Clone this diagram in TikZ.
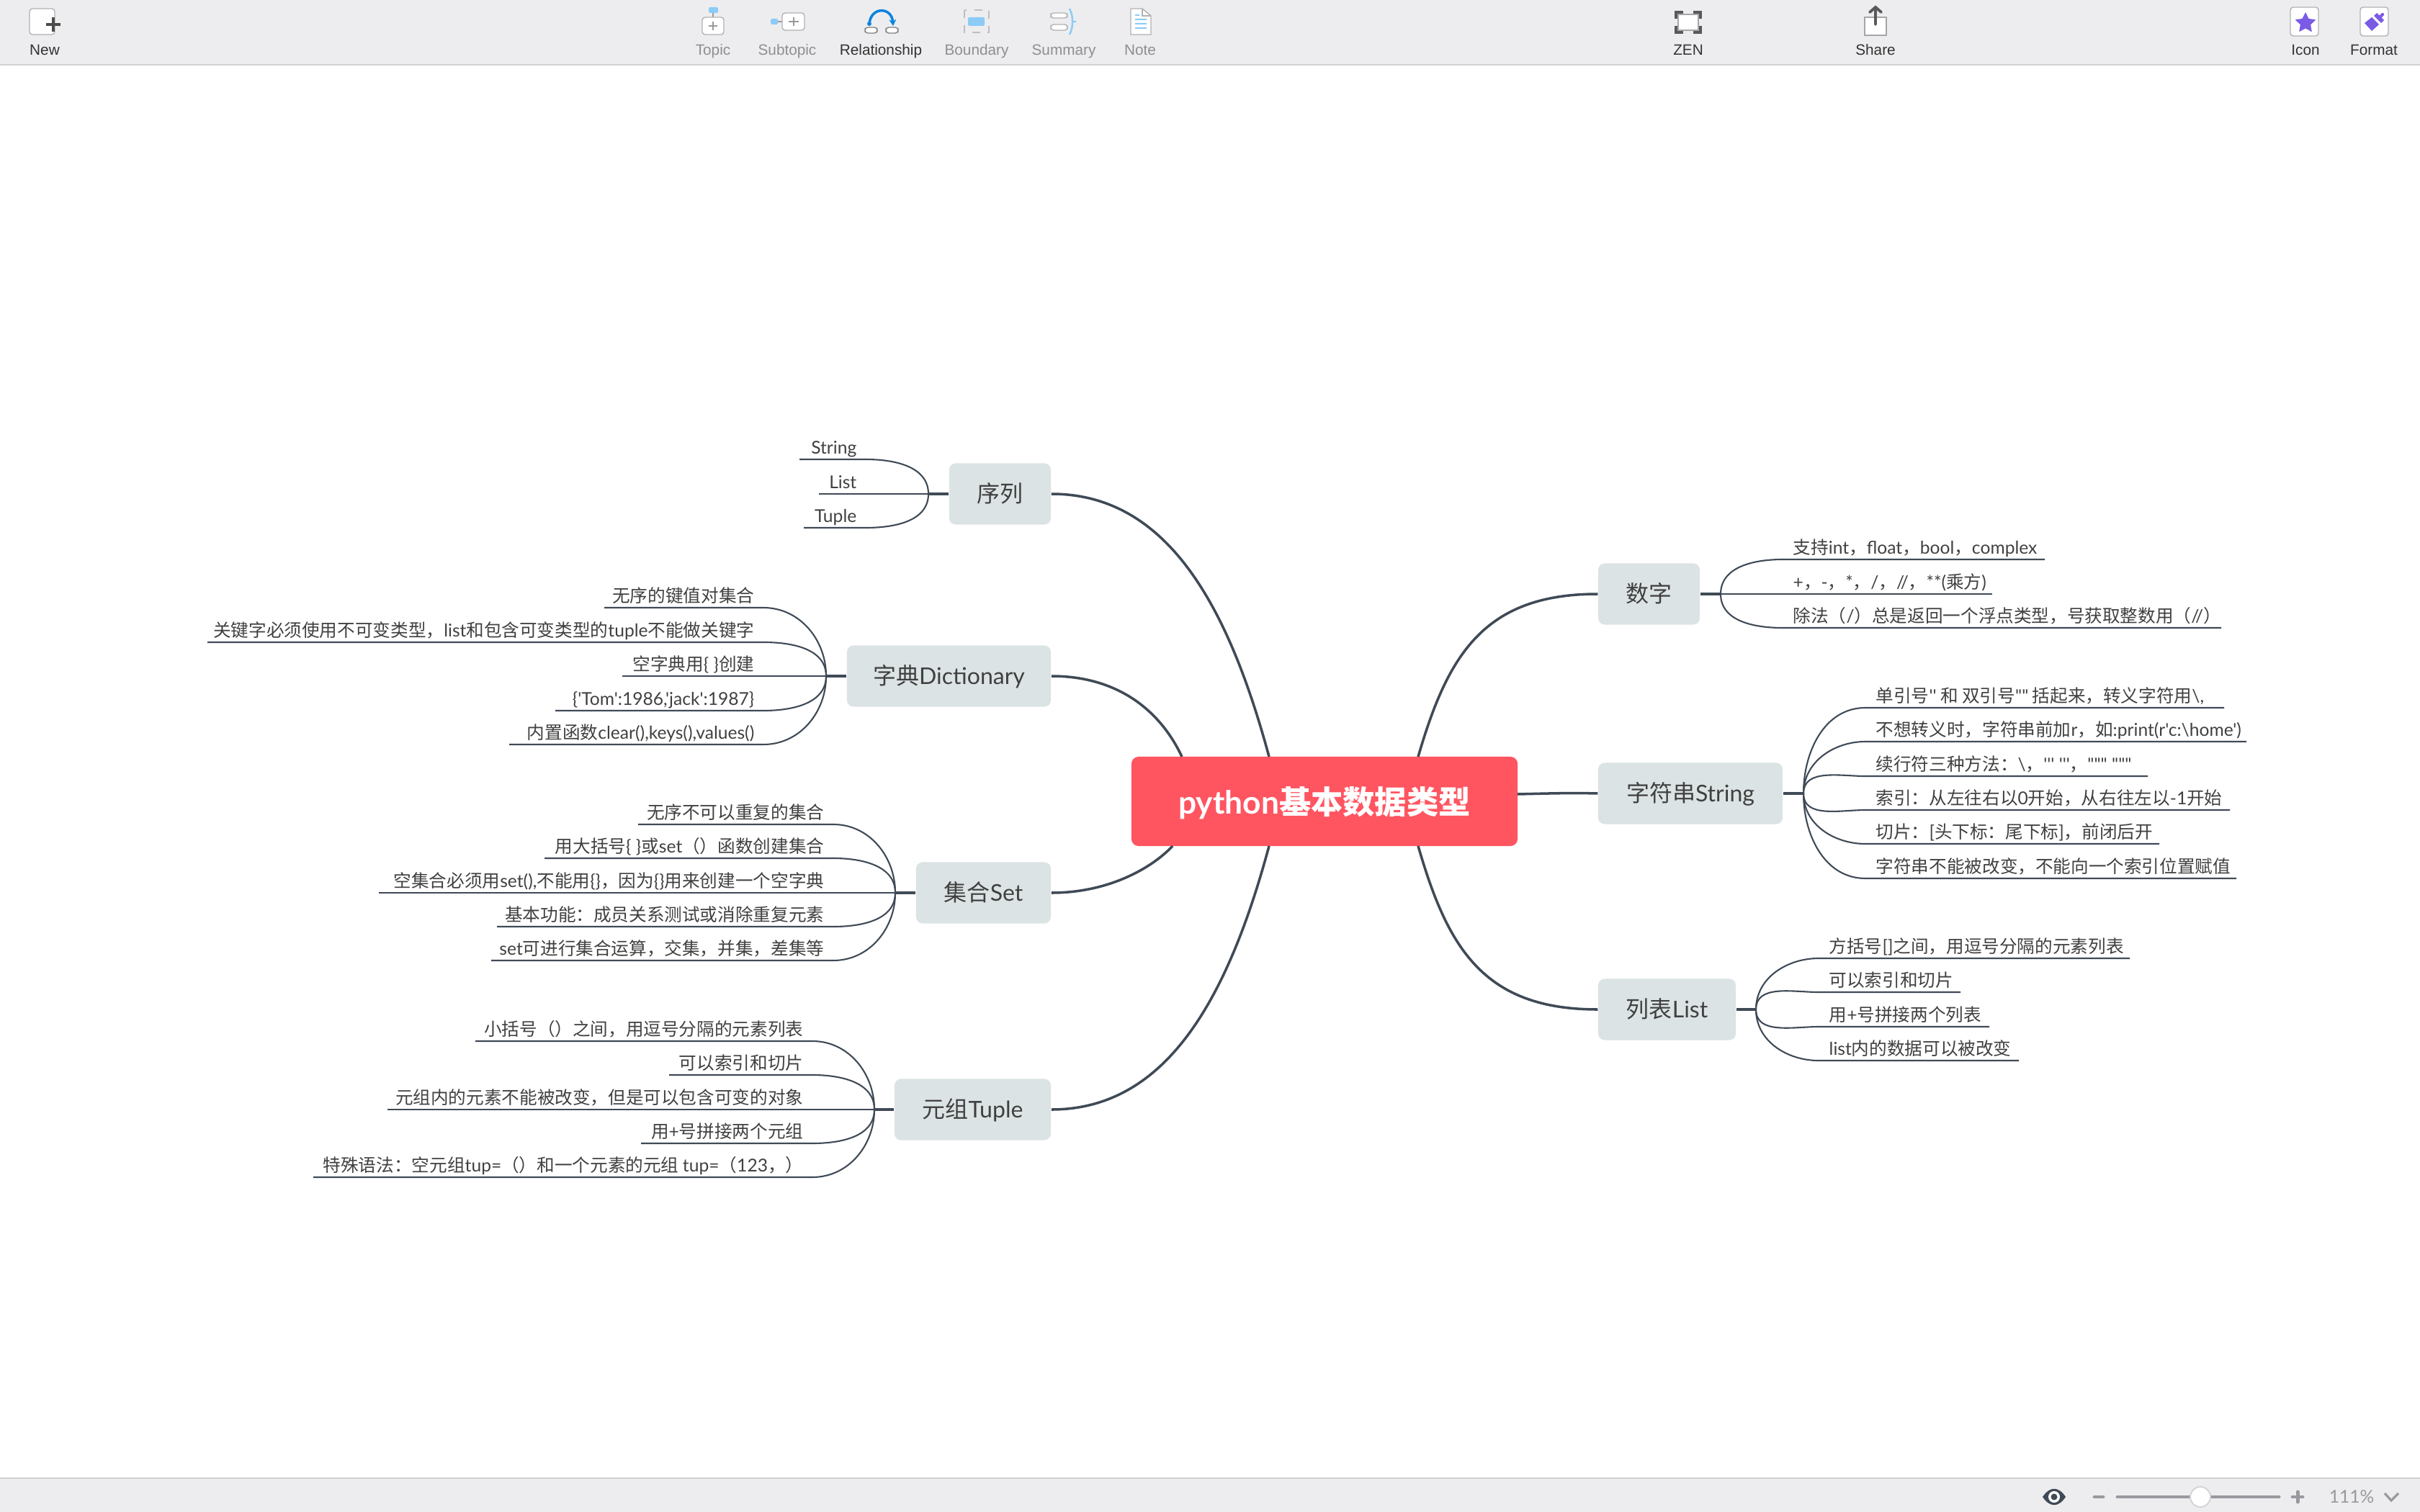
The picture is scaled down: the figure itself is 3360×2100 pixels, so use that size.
\documentclass[tikz,border=0pt]{standalone}
\usepackage{fontspec}
\usetikzlibrary{shapes.geometric,arrows.meta}
\newfontfamily\cjk{Noto Sans CJK SC}
\newfontfamily\latfont{Lato}
\newfontfamily\barfont{Liberation Sans}
\newcommand{\lat}[1]{{\latfont #1}}
\definecolor{linegray}{HTML}{3F4A56}
\definecolor{textgray}{HTML}{404040}
\definecolor{topicfill}{HTML}{DCE3E4}
\definecolor{rootred}{HTML}{FF5561}
\definecolor{barbg}{HTML}{EDEDEF}
\definecolor{barline}{HTML}{D2D2D2}
\definecolor{iconblue}{HTML}{8CCBF7}
\definecolor{arcblue}{HTML}{0A84E0}
\definecolor{iconpurple}{HTML}{7B5BE6}
\definecolor{dimgray}{HTML}{8E8E93}
\definecolor{trackgray}{HTML}{98999E}
\tikzset{
  leaf/.style={font=\cjk\fontsize{7}{8}\selectfont,text=textgray,inner ysep=0pt,inner xsep=.14cm,text height=6pt,text depth=2pt},
  leafl/.style={leaf,anchor=south east,inner xsep=.12cm},
  leafr/.style={leaf,anchor=south west},
  topic/.style={font=\cjk\fontsize{9.1}{10}\selectfont,text=textgray,fill=topicfill,rounded corners=.09cm,inner sep=0pt,minimum height=.85cm,text height=8.1pt,text depth=1.6pt},
  branch/.style={draw=linegray,line width=1pt},
  twig/.style={draw=linegray,line width=.6pt},
  upleft/.style={out=90,in=0},
  downleft/.style={out=-90,in=0},
  upright/.style={out=90,in=180},
  downright/.style={out=-90,in=180},
  barlabel/.style={font=\barfont\fontsize{5.9}{7}\selectfont,text=black!80,inner sep=0pt,anchor=base},
  barlabeldim/.style={barlabel,text=dimgray},
  iconbox/.style={draw=black!30,fill=white,line width=.4pt,rounded corners=.04cm}
}
\begin{document}
\begin{tikzpicture}[x=0.01cm,y=-0.01cm]
\useasboundingbox (0,0) rectangle (3360,2100);
% toolbar
\fill[barbg] (0,0) rectangle (3360,90);
\draw[barline,line width=.6pt] (0,90)--(3360,90);
\fill[barbg] (0,2053) rectangle (3360,2100);
\draw[barline,line width=.6pt] (0,2053)--(3360,2053);
\node[barlabel] (newlbl) at (62,77) {New};
\node[barlabeldim] (topiclbl) at (990,77) {Topic};
\node[barlabeldim] (subtopiclbl) at (1093,77) {Subtopic};
\node[barlabel] (rellbl) at (1223,77) {Relationship};
\node[barlabeldim] (boundlbl) at (1356,77) {Boundary};
\node[barlabeldim] (sumlbl) at (1477,77) {Summary};
\node[barlabeldim] (notelbl) at (1583,77) {Note};
\node[barlabel] (zenlbl) at (2344,77) {ZEN};
\node[barlabel] (sharelbl) at (2604,77) {Share};
\node[barlabel] (iconlbl) at (3201,77) {Icon};
\node[barlabel] (formatlbl) at (3296,77) {Format};
% new
\draw[iconbox] (41,12) rectangle (76,48);
\draw[black!70,line width=1pt] (74,24)--(74,44) (64,34)--(84,34);
% topic
\draw[black!40,line width=.6pt] (990,17)--(990,24);
\draw[iconbox] (975,24) rectangle (1005,48);
\draw[black!40,line width=.5pt] (990,30)--(990,42) (984,36)--(996,36);
\fill[iconblue,rounded corners=.02cm] (984,10) rectangle (997,18);
% subtopic
\draw[black!40,line width=.6pt] (1080,30)--(1086,30);
\draw[iconbox] (1086,18) rectangle (1117,42);
\draw[black!40,line width=.5pt] (1102,24)--(1102,36) (1095,30)--(1109,30);
\fill[iconblue,rounded corners=.02cm] (1070,26) rectangle (1080,34);
% relationship
\draw[iconbox,draw=black!50] (1201,38) rectangle (1218,46);
\draw[iconbox,draw=black!50] (1230,38) rectangle (1247,46);
\fill[arcblue] (1207,33) circle (3);
\draw[arcblue,line width=1pt,-{Stealth[length=.09cm,width=.1cm]}] (1207,33) .. controls (1209,9) and (1238,9) .. (1240,36);
% boundary
\draw[black!25,dashed,line width=.6pt] (1339,14) rectangle (1373,45);
\fill[iconblue,rounded corners=.02cm] (1344,24) rectangle (1367,36);
% summary
\draw[iconbox] (1459,18) rectangle (1482,25);
\draw[iconbox] (1459,34) rectangle (1482,42);
\draw[iconblue,line width=.7pt] (1485,12) .. controls (1489,20) and (1489,26) .. (1489,30) .. controls (1489,34) and (1489,40) .. (1485,48) (1489,30)--(1494,30);
% note
\draw[black!30,fill=white,line width=.4pt] (1570,12)--(1586,12)--(1598,22)--(1598,48)--(1570,48)--cycle;
\draw[black!30,line width=.3pt] (1586,12)--(1586,22)--(1598,22);
\fill[iconblue] (1576,20) rectangle (1582,22) (1576,26) rectangle (1592,28) (1576,32) rectangle (1592,34) (1576,38) rectangle (1592,40);
% zen
\draw[black!65,line width=1.1pt] (2327,26)--(2327,17)--(2337,17) (2351,17)--(2361,17)--(2361,26) (2361,36)--(2361,45)--(2351,45) (2337,45)--(2327,45)--(2327,36);
\draw[black!35,fill=white,line width=.4pt] (2330,20) rectangle (2358,42);
% share
\draw[black!35,fill=white,line width=.4pt] (2589,24) rectangle (2619,49);
\draw[black!65,line width=1.1pt,line cap=round] (2604,34)--(2604,10) (2596,17)--(2604,10)--(2612,17);
% icon, format
\draw[iconbox] (3180,10) rectangle (3219,50);
\node[star,star points=5,star point ratio=2,fill=iconpurple,inner sep=0pt,minimum size=.3cm] (staricon) at (3201,32) {};
\draw[iconbox] (3277,10) rectangle (3316,50);
\fill[iconpurple] (3283,32)--(3293,24)--(3303,34)--(3293,43)--cycle;
\fill[iconpurple] (3296,22)--(3306,32)--(3310,28)--(3300,18)--cycle;
\draw[iconpurple,line width=1.2pt,line cap=round] (3303,25)--(3308,20);
% status bar
\fill[linegray] (2836,2079) .. controls (2846,2064) and (2858,2064) .. (2868,2079) .. controls (2858,2094) and (2846,2094) .. cycle;
\fill[white] (2852,2079) circle (8);
\fill[linegray] (2852,2079) circle (4.5);
\draw[trackgray,line width=1.4pt,line cap=round] (2908,2079)--(2920,2079);
\draw[trackgray,line width=1.4pt,line cap=round] (2940,2079)--(3164,2079);
\draw[trackgray,line width=1.4pt,line cap=round] (3183,2079)--(3197,2079) (3190,2072)--(3190,2086);
\draw[barline,fill=white,line width=.5pt] (3055,2079) circle (14);
\node[barlabel,font=\latfont\fontsize{7}{8}\selectfont,text=trackgray,anchor=center] (zoomlbl) at (3265,2079) {111\%};
\draw[trackgray,line width=.9pt] (3311,2074)--(3320,2084)--(3330,2074);
% main topics
\node[fill=rootred,text=white,font=\cjk\bfseries\fontsize{12.6}{14}\selectfont,rounded corners=.1cm,inner sep=0pt,minimum width=5.36cm,minimum height=1.24cm,text height=12.3pt,text depth=2.5pt] (root) at (1839,1113) {\lat{python}基本数据类型};
\node[topic,minimum width=1.41cm] (seq) at (1388.5,686) {序列};
\node[topic,minimum width=2.83cm] (dict) at (1317.5,939) {字典\lat{Dictionary}};
\node[topic,minimum width=1.87cm] (set) at (1365.5,1240) {集合\lat{Set}};
\node[topic,minimum width=2.17cm] (tup) at (1350.5,1541) {元组\lat{Tuple}};
\node[topic,minimum width=1.41cm] (num) at (2289.5,825) {数字};
\node[topic,minimum width=2.56cm] (str) at (2347,1102) {字符串\lat{String}};
\node[topic,minimum width=1.91cm] (lst) at (2314.5,1402) {列表\lat{List}};
\coordinate (rootA) at (1762,1051);
\coordinate (rootB) at (1641,1051);
\coordinate (rootC) at (1628,1175);
\coordinate (rootD) at (1762,1175);
\coordinate (rootE) at (1969,1051);
\coordinate (rootF) at (2107,1103);
\coordinate (rootG) at (1969,1175);
\draw[branch] (seq.east) .. controls (1620,686) and (1705,840) .. (rootA);
\draw[branch] (dict.east) .. controls (1550,939) and (1610,985) .. (rootB);
\draw[branch] (set.east) .. controls (1540,1240) and (1600,1205) .. (rootC);
\draw[branch] (tup.east) .. controls (1620,1541) and (1705,1386) .. (rootD);
\draw[branch] (num.west) .. controls (2060,825) and (2010,910) .. (rootE);
\draw[branch] (str.west) .. controls (2180,1101) and (2150,1102) .. (rootF);
\draw[branch] (lst.west) .. controls (2060,1402) and (2010,1317) .. (rootG);
% forks
\coordinate (seqf) at (1289,686);
\coordinate (dictf) at (1147,939);
\coordinate (setf) at (1243,1240);
\coordinate (tupf) at (1214,1541);
\coordinate (numf) at (2389,825);
\coordinate (strf) at (2504,1102);
\coordinate (lstf) at (2438,1402);
\draw[branch] (seq.west)--(seqf);
\draw[branch] (dict.west)--(dictf);
\draw[branch] (set.west)--(setf);
\draw[branch] (tup.west)--(tupf);
\draw[branch] (num.east)--(numf);
\draw[branch] (str.east)--(strf);
\draw[branch] (lst.east)--(lstf);
% seq
\node[leafl] (seqa) at (1202,638) {\lat{String}};
\node[leafl] (seqb) at (1202,686) {\lat{List}};
\node[leafl] (seqc) at (1202,733) {\lat{Tuple}};
\coordinate (seqae) at (1110,638);
\coordinate (seqbe) at (1137,686);
\coordinate (seqce) at (1116,733);
\draw[twig] (seqf) to[upleft] (seqa.south east)--(seqae);
\draw[twig] (seqf)--(seqbe);
\draw[twig] (seqf) to[downleft] (seqc.south east)--(seqce);
% dict
\node[leafl] (dicta) at (1060,844) {无序的键值对集合};
\node[leafl] (dictb) at (1060,892) {关键字必须使用不可变类型，\lat{list}和包含可变类型的\lat{tuple}不能做关键字};
\node[leafl] (dictc) at (1060,939) {空字典用\lat{\{ \}}创建};
\node[leafl] (dictd) at (1060,987) {\lat{\{'Tom':1986,'jack':1987\}}};
\node[leafl] (dicte) at (1060,1034) {内置函数\lat{clear(),keys(),values()}};
\coordinate (dictae) at (839,844);
\coordinate (dictbe) at (288,892);
\coordinate (dictce) at (864,939);
\coordinate (dictde) at (771,987);
\coordinate (dictee) at (707,1034);
\draw[twig] (dictf) to[upleft] (dicta.south east)--(dictae);
\draw[twig] (dictf) to[upleft] (dictb.south east)--(dictbe);
\draw[twig] (dictf)--(dictce);
\draw[twig] (dictf) to[downleft] (dictd.south east)--(dictde);
\draw[twig] (dictf) to[downleft] (dicte.south east)--(dictee);
% set
\node[leafl] (seta) at (1157,1145) {无序不可以重复的集合};
\node[leafl] (setb) at (1157,1192) {用大括号\lat{\{ \}}或\lat{set}（）函数创建集合};
\node[leafl] (setc) at (1157,1240) {空集合必须用\lat{set(),}不能用\lat{\{\}}，因为\lat{\{\}}用来创建一个空字典};
\node[leafl] (setd) at (1157,1287) {基本功能：成员关系测试或消除重复元素};
\node[leafl] (sete) at (1157,1334) {\lat{set}可进行集合运算，交集，并集，差集等};
\coordinate (setae) at (886,1145);
\coordinate (setbe) at (756,1192);
\coordinate (setce) at (526,1240);
\coordinate (setde) at (690,1287);
\coordinate (setee) at (682,1334);
\draw[twig] (setf) to[upleft] (seta.south east)--(setae);
\draw[twig] (setf) to[upleft] (setb.south east)--(setbe);
\draw[twig] (setf)--(setce);
\draw[twig] (setf) to[downleft] (setd.south east)--(setde);
\draw[twig] (setf) to[downleft] (sete.south east)--(setee);
% tuple
\node[leafl] (tupa) at (1128,1446) {小括号（）之间，用逗号分隔的元素列表};
\node[leafl] (tupb) at (1128,1493) {可以索引和切片};
\node[leafl] (tupc) at (1128,1541) {元组内的元素不能被改变，但是可以包含可变的对象};
\node[leafl] (tupd) at (1128,1588) {用\lat{+}号拼接两个元组};
\node[leafl] (tupe) at (1128,1635) {特殊语法：空元组\lat{tup=}（）和一个元素的元组 \lat{tup=}（\lat{123}，）};
\coordinate (tupae) at (660,1446);
\coordinate (tupbe) at (929,1493);
\coordinate (tupce) at (538,1541);
\coordinate (tupde) at (890,1588);
\coordinate (tupee) at (435,1635);
\draw[twig] (tupf) to[upleft] (tupa.south east)--(tupae);
\draw[twig] (tupf) to[upleft] (tupb.south east)--(tupbe);
\draw[twig] (tupf)--(tupce);
\draw[twig] (tupf) to[downleft] (tupd.south east)--(tupde);
\draw[twig] (tupf) to[downleft] (tupe.south east)--(tupee);
% num
\node[leafr] (numa) at (2475,777) {支持\lat{int}，\lat{float}，\lat{bool}，\lat{complex}};
\node[leafr] (numb) at (2475,825) {\lat{+}，\lat{-}，\lat{*}，\lat{/}，\lat{//}，\lat{**(}乘方\lat{)}};
\node[leafr] (numc) at (2475,872) {除法（\lat{/}）总是返回一个浮点类型，号获取整数用（\lat{//}）};
\coordinate (numae) at (2839,777);
\coordinate (numbe) at (2766,825);
\coordinate (numce) at (3084,872);
\draw[twig] (numf) to[upright] (numa.south west)--(numae);
\draw[twig] (numf)--(numbe);
\draw[twig] (numf) to[downright] (numc.south west)--(numce);
% str
\node[leafr] (stra) at (2590,983) {单引号\lat{''} 和 双引号\lat{""} 括起来，转义字符用\lat{\textbackslash ,}};
\node[leafr] (strb) at (2590,1030) {不想转义时，字符串前加\lat{r}，如\lat{:print(r'c:\textbackslash home')}};
\node[leafr] (strc) at (2590,1078) {续行符三种方法：\lat{\textbackslash}，\lat{''' '''}，\lat{""" """}};
\node[leafr] (strd) at (2590,1125) {索引：从左往右以\lat{0}开始，从右往左以\lat{-1}开始};
\node[leafr] (stre) at (2590,1172) {切片：\lat{[}头下标：尾下标\lat{]}，前闭后开};
\node[leafr] (strg) at (2590,1220) {字符串不能被改变，不能向一个索引位置赋值};
\coordinate (strae) at (3088,983);
\coordinate (strbe) at (3119,1030);
\coordinate (strce) at (2982,1078);
\coordinate (strde) at (3096,1125);
\coordinate (stree) at (2998,1172);
\coordinate (strge) at (3105,1220);
\draw[twig] (strf) to[upright] (stra.south west)--(strae);
\draw[twig] (strf) to[upright] (strb.south west)--(strbe);
\draw[twig] (strf) to[upright] (strc.south west)--(strce);
\draw[twig] (strf) to[downright] (strd.south west)--(strde);
\draw[twig] (strf) to[downright] (stre.south west)--(stree);
\draw[twig] (strf) to[downright] (strg.south west)--(strge);
% list
\node[leafr] (lsta) at (2525,1331) {方括号\lat{[]}之间，用逗号分隔的元素列表};
\node[leafr] (lstb) at (2525,1378) {可以索引和切片};
\node[leafr] (lstc) at (2525,1426) {用\lat{+}号拼接两个列表};
\node[leafr] (lstd) at (2525,1473) {\lat{list}内的数据可以被改变};
\coordinate (lstae) at (2957,1331);
\coordinate (lstbe) at (2722,1378);
\coordinate (lstce) at (2762,1426);
\coordinate (lstde) at (2803,1473);
\draw[twig] (lstf) to[upright] (lsta.south west)--(lstae);
\draw[twig] (lstf) to[upright] (lstb.south west)--(lstbe);
\draw[twig] (lstf) to[downright] (lstc.south west)--(lstce);
\draw[twig] (lstf) to[downright] (lstd.south west)--(lstde);
\end{tikzpicture}
\end{document}
